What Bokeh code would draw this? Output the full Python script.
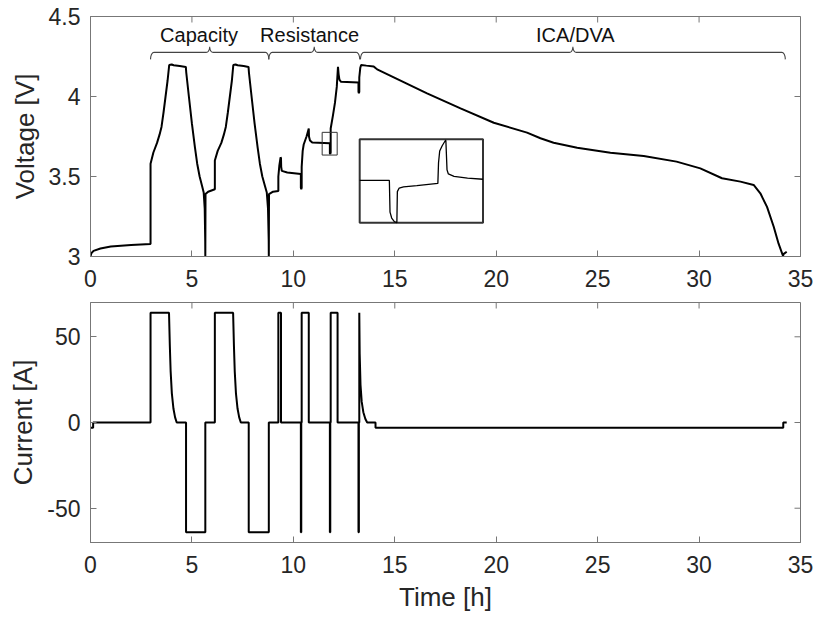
import numpy as np
from bokeh.plotting import figure
from bokeh.layouts import column
from bokeh.models import Range1d, FixedTicker
from bokeh.core.properties import value
from bokeh.embed import file_html
from bokeh.resources import INLINE

# ---------------- data ----------------
volt_time_h = [0.00, 0.04, 0.15, 0.49, 1.00, 2.00, 2.96,
               2.96, 3.10, 3.28, 3.40, 3.50, 3.60, 3.70, 3.80, 3.88, 4.00, 4.10, 4.40, 4.70,
               4.72, 4.85, 5.00, 5.15, 5.26, 5.38, 5.50, 5.58, 5.63, 5.655, 5.66,
               5.67, 5.80, 6.13,
               6.13, 6.27, 6.45, 6.57, 6.67, 6.77, 6.87, 6.97, 7.04, 7.15, 7.25, 7.55, 7.79,
               7.81, 7.94, 8.09, 8.24, 8.35, 8.47, 8.60, 8.69, 8.75, 8.785, 8.79,
               8.80, 9.00, 9.26,
               9.26, 9.31, 9.37, 9.39, 9.40, 9.43, 9.70, 10.37,
               10.37, 10.39, 10.41, 10.41, 10.46, 10.51, 10.65, 10.76, 10.77, 10.82, 10.93, 11.80,
               11.80, 11.82, 11.84, 11.84, 11.95, 12.05, 12.14, 12.20, 12.23, 12.27, 12.35, 13.21,
               13.21, 13.23, 13.25, 13.25, 13.30, 13.34, 13.60, 13.96, 14.05, 14.13, 14.95, 16.59,
               18.24, 19.88, 21.52, 22.18, 22.83, 23.99, 25.63, 27.27, 28.89, 30.06, 31.13, 32.04,
               32.69, 33.02, 33.35, 33.68, 33.92, 34.14, 34.16, 34.32]
volt_v = [3.000, 3.020, 3.035, 3.050, 3.062, 3.072, 3.078,
          3.580, 3.650, 3.710, 3.760, 3.810, 3.900, 4.000, 4.100, 4.197, 4.200, 4.195, 4.190, 4.185,
          4.150, 4.000, 3.830, 3.680, 3.580, 3.500, 3.440, 3.400, 3.300, 3.100, 3.000,
          3.390, 3.405, 3.420,
          3.600, 3.660, 3.710, 3.760, 3.810, 3.900, 4.000, 4.100, 4.197, 4.200, 4.195, 4.190, 4.185,
          4.150, 4.000, 3.830, 3.680, 3.580, 3.500, 3.440, 3.400, 3.300, 3.100, 3.000,
          3.390, 3.405, 3.410,
          3.500, 3.570, 3.620, 3.615, 3.560, 3.535, 3.525, 3.515,
          3.430, 3.420, 3.430, 3.560, 3.660, 3.700, 3.750, 3.800, 3.750, 3.725, 3.712, 3.708,
          3.645, 3.640, 3.650, 3.800, 3.880, 3.960, 4.060, 4.186, 4.140, 4.105, 4.092, 4.088,
          4.030, 4.020, 4.030, 4.120, 4.180, 4.197, 4.193, 4.188, 4.178, 4.170, 4.120, 4.020,
          3.926, 3.836, 3.774, 3.739, 3.711, 3.680, 3.649, 3.628, 3.593, 3.551, 3.489, 3.468,
          3.447, 3.395, 3.310, 3.186, 3.080, 3.003, 3.015, 3.030]

curr_time_h = [0.00, 0.13, 0.13, 2.96, 2.96, 3.87, 3.91, 3.95, 4.01, 4.09, 4.17, 4.25,
               4.71, 4.71, 5.66, 5.66, 6.13, 6.13, 7.03, 7.07, 7.11, 7.17, 7.25, 7.33, 7.41,
               7.80, 7.80, 8.79, 8.79, 9.26, 9.26, 9.39, 9.39,
               10.37, 10.37, 10.39, 10.39, 10.41, 10.41, 10.76, 10.76,
               11.80, 11.80, 11.82, 11.82, 11.84, 11.84, 12.18, 12.18,
               13.21, 13.21, 13.23, 13.23, 13.25, 13.25, 13.27, 13.31, 13.37, 13.45, 13.55, 13.64,
               14.05, 14.05, 34.15, 34.15, 34.32]
curr_a = [-3, -3, 0, 0, 64, 64, 45, 30, 17, 8, 3, 0,
          0, -64, -64, 0, 0, 64, 64, 45, 30, 17, 8, 3, 0,
          0, -64, -64, 0, 0, 64, 64, 0,
          0, -64, -64, 0, 0, 64, 64, 0,
          0, -64, -64, 0, 0, 64, 64, 0,
          0, -64, -64, 0, 0, 64, 40, 22, 12, 6, 2, 0,
          0, -3, -3, 0, 0]

# zoomed detail shown in the inset (same units as the main plot)
inset_time_h = [11.420, 11.598, 11.602, 11.612, 11.628, 11.643, 11.646, 11.657, 11.683,
                11.763, 11.889, 11.893, 11.900, 11.915, 11.934, 11.937, 11.944, 11.952,
                11.986, 12.067, 12.160]
inset_v = [3.706, 3.706, 3.652, 3.642, 3.636, 3.634, 3.687, 3.693, 3.695,
           3.697, 3.701, 3.736, 3.756, 3.765, 3.774, 3.774, 3.724, 3.717,
           3.713, 3.710, 3.708]
zoom_window_t = [11.42, 12.16]
zoom_window_v = [3.634, 3.776]
inset_box_t = [13.27, 19.35]
inset_box_v = [3.211, 3.7325]

phase_names = ["Capacity", "Resistance", "ICA/DVA"]
phase_start_h = [2.96, 8.79, 13.31]
phase_end_h = [8.79, 13.27, 34.25]
phase_label_t = [5.35, 10.80, 23.90]
phase_label_v = [4.385, 4.385, 4.385]

x_ticks = [0, 5, 10, 15, 20, 25, 30, 35]
x_tick_labels = ["0", "5", "10", "15", "20", "25", "30", "35"]
v_ticks = [3.0, 3.5, 4.0, 4.5]
v_tick_labels = ["3", "3.5", "4", "4.5"]
i_ticks = [-50, 0, 50]
i_tick_labels = ["-50", "0", "50"]

# ---------------- styling ----------------
FONT = "Liberation Sans"
AX = "#262626"
FRAME = "#777777"
TICK_FS = "23px"
LABEL_FS = "26px"
TICK_LEN = 6


def style(p, yticks, ylabels, ylabel, xlabel=None):
    p.xgrid.visible = False
    p.ygrid.visible = False
    p.outline_line_color = FRAME
    p.outline_line_width = 1
    p.background_fill_color = "white"
    p.border_fill_color = "white"
    xa = p.xaxis[0]
    ya = p.yaxis[0]
    xa.ticker = FixedTicker(ticks=x_ticks)
    xa.major_label_overrides = {t: l for t, l in zip(x_ticks, x_tick_labels)}
    ya.ticker = FixedTicker(ticks=yticks)
    ya.major_label_overrides = {t: l for t, l in zip(yticks, ylabels)}
    for a in (xa, ya):
        a.axis_line_color = FRAME
        a.major_tick_line_color = FRAME
        a.major_tick_in = TICK_LEN
        a.major_tick_out = 0
        a.minor_tick_line_color = None
        a.major_label_text_font = FONT
        a.major_label_text_font_size = TICK_FS
        a.major_label_text_color = AX
        a.axis_label_text_font = FONT
        a.axis_label_text_font_size = LABEL_FS
        a.axis_label_text_font_style = "normal"
        a.axis_label_text_color = AX
    xa.major_label_standoff = 13
    ya.major_label_standoff = 10
    ya.axis_label = ylabel
    ya.axis_label_standoff = 6
    if xlabel:
        xa.axis_label = xlabel
        xa.axis_label_standoff = 6
    # mirrored inward ticks on the top and right edges (box on)
    xr, yr = p.x_range, p.y_range
    p.ray(x=x_ticks, y=[yr.end] * len(x_ticks), length=TICK_LEN, length_units="screen",
          angle=-np.pi / 2, line_color=FRAME, line_width=1)
    p.ray(x=[xr.end] * len(yticks), y=yticks, length=TICK_LEN, length_units="screen",
          angle=np.pi, line_color=FRAME, line_width=1)


# ---------------- voltage figure ----------------
p1 = figure(frame_width=710, frame_height=240, min_border_left=90, min_border_right=15,
            min_border_top=16, min_border_bottom=46,
            x_range=Range1d(0, 35), y_range=Range1d(3, 4.5),
            output_backend="svg", toolbar_location=None)
style(p1, v_ticks, v_tick_labels, "Voltage [V]")
p1.line(volt_time_h, volt_v, line_color="black", line_width=2)

# zoom window marker
p1.quad(left=[zoom_window_t[0]], right=[zoom_window_t[1]],
        bottom=[zoom_window_v[0]], top=[zoom_window_v[1]],
        fill_color=None, line_color="#333333", line_width=1)
# inset box
p1.quad(left=[inset_box_t[0]], right=[inset_box_t[1]],
        bottom=[inset_box_v[0]], top=[inset_box_v[1]],
        fill_color="white", line_color="#333333", line_width=2)
sub = p1.subplot(x_source=Range1d(*zoom_window_t), y_source=Range1d(*zoom_window_v),
                 x_target=Range1d(*inset_box_t), y_target=Range1d(*inset_box_v))
sub.line(inset_time_h, inset_v, line_color="black", line_width=1.3)


def brace(t0, t1, base=4.276, h_end=0.044, h_tip=0.034, w=0.17):
    tc = 0.5 * (t0 + t1)
    th = np.linspace(0, np.pi / 2, 10)
    lx1 = t0 + w - w * np.cos(th)
    ly1 = base - h_end + h_end * np.sin(th)
    lx2 = tc - w + w * np.sin(th)
    ly2 = base + h_tip - h_tip * np.cos(th)
    rx2 = (2 * tc - lx2)[::-1]
    ry2 = ly2[::-1]
    rx1 = (t1 + t0 - lx1)[::-1]
    ry1 = ly1[::-1]
    xs = np.concatenate([lx1, lx2, rx2, rx1])
    ys = np.concatenate([ly1, ly2, ry2, ry1])
    return list(xs), list(ys)


bx, by = [], []
for a, b in zip(phase_start_h, phase_end_h):
    xs, ys = brace(a, b)
    bx.append(xs)
    by.append(ys)
p1.multi_line(xs=bx, ys=by, line_color="#444444", line_width=1.1)
p1.text(x=phase_label_t, y=phase_label_v, text=phase_names,
        text_font=value(FONT), text_font_size="20px", text_color="#111111",
        text_align="center", text_baseline="alphabetic")

# ---------------- current figure ----------------
p2 = figure(frame_width=710, frame_height=240, min_border_left=90, min_border_right=15,
            min_border_top=0, min_border_bottom=75,
            x_range=Range1d(0, 35), y_range=Range1d(-70, 70),
            output_backend="svg", toolbar_location=None)
style(p2, i_ticks, i_tick_labels, "Current [A]", "Time [h]")
p2.line(curr_time_h, curr_a, line_color="black", line_width=2)

layout = column(p1, p2, spacing=0)
open("out.html", "w").write(file_html(layout, INLINE))
